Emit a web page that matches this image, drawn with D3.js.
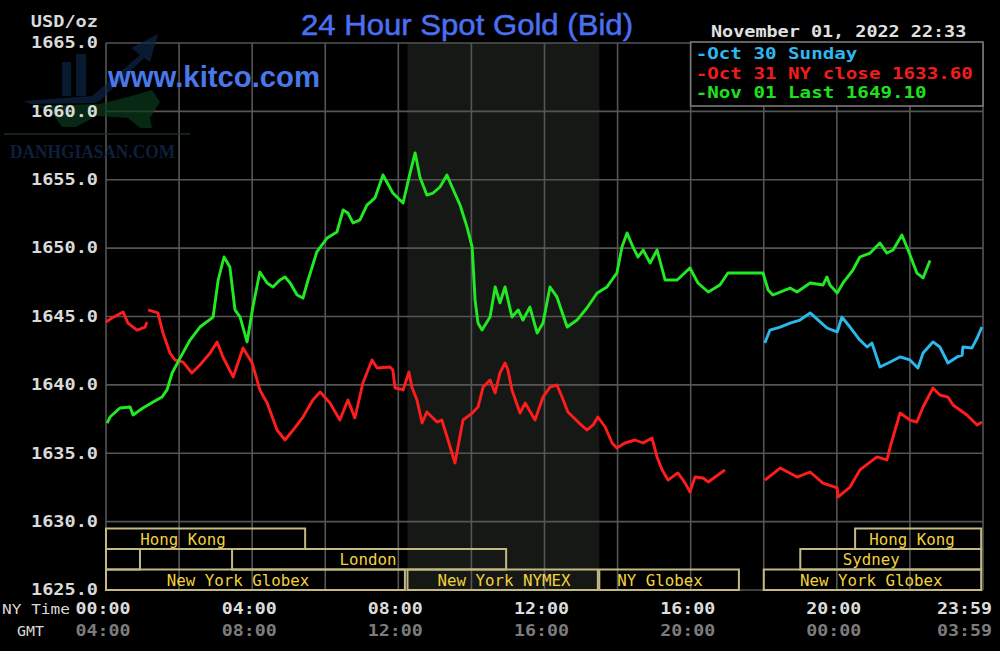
<!DOCTYPE html>
<html><head><meta charset="utf-8">
<script src="https://cdn.jsdelivr.net/npm/d3@7"></script>
<style>html,body{margin:0;padding:0;background:#000;}svg{display:block}</style>
</head><body><svg id="c" width="1000" height="651"></svg>
<script>
// ---------- data ----------
const titleText = "24 Hour Spot Gold (Bid)";
const unitLabel = "USD/oz";
const siteLabel = "www.kitco.com";
const stampLabel = "November 01, 2022 22:33";
const watermarkLabel = "DANHGIASAN.COM";
const legendLabels = ["-Oct 30 Sunday", "-Oct 31 NY close 1633.60", "-Nov 01 Last 1649.10"];
const yTicks = [1625, 1630, 1635, 1640, 1645, 1650, 1655, 1660, 1665];
const gridHours = [0, 2, 4, 6, 8, 10, 12, 14, 16, 18, 20, 22, 24];
const xTickHours = [0, 4, 8, 12, 16, 20, 23.98];
const nyTimeLabels = ["00:00", "04:00", "08:00", "12:00", "16:00", "20:00", "23:59"];
const gmtLabels = ["04:00", "08:00", "12:00", "16:00", "20:00", "00:00", "03:59"];
const comexHours = [8.25, 13.5];

const sessionNames = ["Hong Kong", "Hong Kong", "", "London", "Sydney", "New York Globex", "New York NYMEX", "NY Globex", "New York Globex"];
const sessionRows = [0, 0, 1, 1, 1, 2, 2, 2, 2];
const sessionStart = [0, 20.5, 0, 3.45, 19.0, 0, 8.25, 13.5, 18.0];
const sessionEnd = [5.45, 23.95, 0.93, 10.95, 23.95, 8.18, 13.46, 17.32, 23.95];
const sessionLabelAt = [2.11, 22.06, 0, 7.17, 20.94, 3.61, 10.89, 15.16, 20.94];

const cyanHours = [18.03,18.17,18.45,18.72,18.99,19.27,19.49,19.73,20.01,20.14,20.36,20.63,20.83,20.96,21.18,21.46,21.73,22.00,22.22,22.36,22.63,22.82,23.04,23.29,23.43,23.45,23.70,23.84,23.97];
const cyanPrices = [1643.06,1644.01,1644.23,1644.52,1644.74,1645.26,1644.74,1644.16,1643.87,1644.96,1644.23,1643.28,1642.77,1643.06,1641.31,1641.67,1642.04,1641.82,1641.23,1642.33,1643.14,1642.77,1641.60,1642.04,1642.18,1642.77,1642.70,1643.43,1644.23];

const redHours = [0,0.16,0.47,0.60,0.85,1.07,1.12,null,
 1.15,1.42,1.56,1.75,1.89,2.11,2.35,2.57,2.85,3.04,3.20,3.48,3.75,4.00,4.21,4.41,4.68,4.90,5.12,5.39,5.66,5.86,6.13,6.40,6.62,6.81,7.03,7.28,7.42,7.77,7.85,7.91,8.05,8.13,8.29,8.37,8.51,8.65,8.78,8.92,9.06,9.19,9.36,9.55,9.77,10.02,10.18,10.32,10.51,10.65,10.78,10.92,11.00,11.11,11.33,11.47,11.74,11.96,12.15,12.34,12.48,12.64,12.92,13.16,13.33,13.46,13.66,13.85,13.98,14.20,14.48,14.70,14.94,15.08,15.22,15.38,15.65,15.85,15.98,16.12,16.34,16.48,16.67,16.94,null,
 18.03,18.45,18.91,19.27,19.62,20.01,20.03,20.36,20.63,21.10,21.37,21.46,21.73,22.00,22.19,22.36,22.63,22.82,23.04,23.18,23.56,23.84,23.97];
const redPrices = [1644.60,1644.89,1645.33,1644.52,1644.01,1644.23,1644.60,null,
 1645.48,1645.26,1643.79,1642.33,1641.82,1641.67,1640.87,1641.45,1642.33,1643.14,1642.04,1640.58,1642.70,1641.60,1639.63,1638.67,1636.70,1635.97,1636.70,1637.65,1638.89,1639.48,1638.67,1637.43,1638.89,1637.58,1640.14,1641.82,1641.23,1641.31,1641.09,1639.77,1639.70,1639.63,1640.94,1639.85,1638.89,1637.21,1638.02,1637.65,1637.28,1637.43,1635.97,1634.29,1637.43,1637.94,1638.38,1639.84,1640.36,1639.41,1640.87,1641.60,1641.09,1639.63,1637.94,1638.67,1637.43,1639.11,1639.84,1639.99,1639.11,1638.02,1637.28,1636.70,1637.07,1637.65,1636.92,1635.75,1635.38,1635.75,1635.97,1635.75,1636.12,1634.73,1633.78,1633.04,1633.56,1632.82,1632.17,1633.26,1633.19,1632.90,1633.26,1633.78,null,
 1633.04,1633.92,1633.26,1633.63,1632.82,1632.46,1631.80,1632.53,1633.78,1634.73,1634.51,1635.46,1637.94,1637.43,1637.28,1638.38,1639.77,1639.26,1639.11,1638.53,1637.80,1637.07,1637.28];

const greenHours = [0.03,0.11,0.38,0.66,0.74,1.01,1.29,1.53,1.67,1.81,2.03,2.30,2.57,2.93,3.07,3.23,3.39,3.53,3.67,3.86,4.02,4.21,4.41,4.57,4.76,4.90,5.04,5.23,5.39,5.53,5.77,6.05,6.32,6.49,6.62,6.76,6.95,7.14,7.36,7.58,7.85,8.13,8.32,8.46,8.59,8.78,8.95,9.14,9.33,9.47,9.69,9.88,10.02,10.10,10.18,10.29,10.51,10.65,10.78,10.92,11.11,11.28,11.41,11.60,11.80,11.96,12.15,12.34,12.62,12.89,13.16,13.44,13.71,13.98,14.12,14.26,14.42,14.56,14.70,14.89,15.08,15.30,15.63,15.98,16.20,16.48,16.80,17.02,17.98,18.12,18.25,18.72,18.91,19.27,19.62,19.73,19.81,20.01,20.17,20.44,20.63,20.91,21.18,21.37,21.54,21.78,21.95,22.19,22.36,22.55];
const greenPrices = [1637.21,1637.65,1638.31,1638.38,1637.80,1638.31,1638.75,1639.11,1639.63,1640.87,1641.97,1643.28,1644.23,1644.96,1647.67,1649.35,1648.62,1645.48,1644.96,1643.14,1645.69,1648.25,1647.45,1647.16,1647.67,1647.89,1647.45,1646.57,1646.35,1647.67,1649.72,1650.74,1651.18,1652.79,1652.57,1651.84,1652.06,1653.15,1653.67,1655.35,1654.03,1653.30,1655.49,1656.96,1655.20,1653.88,1654.03,1654.47,1655.35,1654.47,1653.15,1651.54,1650.08,1646.21,1644.52,1644.01,1644.96,1647.16,1645.99,1647.16,1644.96,1645.48,1644.74,1645.69,1643.79,1644.52,1647.16,1646.43,1644.23,1644.74,1645.62,1646.72,1647.16,1648.18,1650.08,1651.11,1650.08,1649.35,1649.86,1648.91,1649.86,1647.67,1647.67,1648.55,1647.45,1646.79,1647.30,1648.18,1648.18,1646.94,1646.57,1647.08,1646.79,1647.45,1647.30,1647.89,1647.30,1646.72,1647.45,1648.40,1649.35,1649.64,1650.37,1649.64,1649.86,1650.96,1649.86,1648.18,1647.82,1649.10];

// ---------- setup ----------
const svg = d3.select("#c");
const W = 1000, H = 651;
const x = d3.scaleLinear().domain([0, 24]).range([106, 983]);
const y = d3.scaleLinear().domain([1625, 1665]).range([590, 43]);
const MONO = "'DejaVu Sans Mono', 'Liberation Mono', monospace";
const SANS = "'Liberation Sans', Arial, sans-serif";

function mono(g, str, px, py, cw, opt) {
  const t = g.append("text").attr("x", px).attr("y", py).text(str)
    .attr("font-family", MONO).attr("font-size", opt.size || 15)
    .attr("font-weight", opt.weight || "bold").attr("fill", opt.fill || "#ddd")
    .attr("textLength", str.length * cw).attr("lengthAdjust", "spacingAndGlyphs");
  if (opt.anchor) t.attr("text-anchor", opt.anchor);
  return t;
}

svg.append("rect").attr("width", W).attr("height", H).attr("fill", "#000");

// COMEX shaded band
svg.append("rect").attr("x", x(comexHours[0])).attr("y", y(1665))
  .attr("width", x(comexHours[1]) - x(comexHours[0])).attr("height", y(1625) - y(1665))
  .attr("fill", "#161816");

// grid
const grid = svg.append("g").attr("stroke", "#555").attr("stroke-width", 1.6);
grid.selectAll("line.h").data(yTicks).join("line").attr("class", "h")
  .attr("x1", x(0)).attr("x2", x(24)).attr("y1", d => y(d)).attr("y2", d => y(d));
grid.selectAll("line.v").data(gridHours).join("line").attr("class", "v")
  .attr("x1", d => x(d)).attr("x2", d => x(d)).attr("y1", y(1665)).attr("y2", y(1625));

// watermark (DANHGIASAN)
const wm = svg.append("g").attr("opacity", 0.7);
wm.append("path").attr("d", "M62,96 L62,62 L71,62 L71,96 Z M76,96 L76,54 L86,54 L86,96 Z").attr("fill", "#0d2645");
wm.append("path").attr("d", "M24,101 L92,96 L140,55 L131,48 L158,34 L150,62 L144,58 L102,99 L95,103 L30,104 Z").attr("fill", "#0d2645");
wm.append("path").attr("d", "M36,106 L100,104 L135,95 L152,90 L160,102 L150,118 L152,128 L140,128 L128,118 L96,116 L76,127 L62,127 L50,110 Z").attr("fill", "#0b3a1c");
wm.append("line").attr("x1", 4).attr("x2", 190).attr("y1", 134).attr("y2", 134).attr("stroke", "#1b3326").attr("stroke-width", 2);
wm.append("text").attr("x", 10).attr("y", 158).text(watermarkLabel)
  .attr("font-family", "'Liberation Serif', serif").attr("font-weight", "bold").attr("font-size", 18)
  .attr("fill", "#132d55").attr("textLength", 165).attr("lengthAdjust", "spacingAndGlyphs");

// session boxes
const rowTop = r => y(1625) - (3 - r) * 20.5;
const sessions = sessionNames.map((n, i) => ({n, r: sessionRows[i], s: sessionStart[i], e: sessionEnd[i], at: sessionLabelAt[i]}));
const sg = svg.append("g");
sg.selectAll("rect").data(sessions).join("rect")
  .attr("x", d => x(d.s)).attr("y", d => rowTop(d.r))
  .attr("width", d => x(d.e) - x(d.s)).attr("height", 20.5)
  .attr("fill", "none").attr("stroke", "#c4b982").attr("stroke-width", 2);
sg.selectAll("text").data(sessions.filter(d => d.n)).join("text")
  .attr("x", d => x(d.at)).attr("y", d => rowTop(d.r) + 16)
  .attr("text-anchor", "middle").text(d => d.n)
  .attr("font-family", MONO).attr("font-size", 15).attr("fill", "#f2d23c")
  .attr("textLength", d => d.n.length * 9.5).attr("lengthAdjust", "spacingAndGlyphs");

// y axis labels
const yAxis = svg.append("g").attr("transform", `translate(${x(0)},0)`)
  .call(d3.axisLeft(y).tickValues(yTicks).tickFormat(d3.format(".1f")).tickSize(0).tickPadding(8));
yAxis.select(".domain").remove();
yAxis.selectAll("text").attr("font-family", MONO).attr("font-size", 15).attr("font-weight", "bold")
  .attr("fill", "#d9d9d9").attr("textLength", 67).attr("lengthAdjust", "spacingAndGlyphs");
mono(svg, unitLabel, 98, 27, 11.2, {anchor: "end", fill: "#d9d9d9"});

// x labels
svg.append("text").attr("x", 2).attr("y", 614).text("NY Time").attr("font-family", MONO)
  .attr("font-size", 14).attr("fill", "#d9d9d9").attr("textLength", 68).attr("lengthAdjust", "spacingAndGlyphs");
svg.append("text").attr("x", 17).attr("y", 636).text("GMT").attr("font-family", MONO)
  .attr("font-size", 14).attr("fill", "#d9d9d9").attr("textLength", 27).attr("lengthAdjust", "spacingAndGlyphs");
const labelX = h => Math.min(x(h) - 3, 992 - 27.5);
svg.append("g").selectAll("text").data(xTickHours).join("text")
  .attr("x", d => labelX(d)).attr("y", 614).attr("text-anchor", "middle")
  .text((d, i) => nyTimeLabels[i]).attr("font-family", MONO).attr("font-size", 15).attr("font-weight", "bold")
  .attr("fill", "#dcdcdc").attr("textLength", 55).attr("lengthAdjust", "spacingAndGlyphs");
svg.append("g").selectAll("text").data(xTickHours).join("text")
  .attr("x", d => labelX(d)).attr("y", 636).attr("text-anchor", "middle")
  .text((d, i) => gmtLabels[i]).attr("font-family", MONO).attr("font-size", 15).attr("font-weight", "bold")
  .attr("fill", "#7c7c7c").attr("textLength", 55).attr("lengthAdjust", "spacingAndGlyphs");

// title + site
svg.append("text").attr("x", 467).attr("y", 35).attr("text-anchor", "middle").text(titleText)
  .attr("font-family", SANS).attr("font-size", 29).attr("fill", "#4b6ff0")
  .attr("stroke", "#4b6ff0").attr("stroke-width", 0.5)
  .attr("textLength", 332).attr("lengthAdjust", "spacingAndGlyphs");
svg.append("text").attr("x", 108).attr("y", 87).text(siteLabel)
  .attr("font-family", SANS).attr("font-weight", "bold").attr("font-size", 30).attr("fill", "#4a78ea")
  .attr("textLength", 212).attr("lengthAdjust", "spacingAndGlyphs");

// timestamp
mono(svg, stampLabel, 711, 37, 11.1, {fill: "#e0e0e0"});

// lines
const mk = (hs, ps) => hs.map((h, i) => ({h, p: ps[i]}));
const line = d3.line().defined(d => d.h != null && d.p != null).x(d => x(d.h)).y(d => y(d.p));
const series = [
  {data: mk(redHours, redPrices), c: "#ff1c1c"},
  {data: mk(cyanHours, cyanPrices), c: "#2bb8ea"},
  {data: mk(greenHours, greenPrices), c: "#22ea22"}
];
svg.append("g").selectAll("path").data(series).join("path")
  .attr("d", d => line(d.data)).attr("fill", "none").attr("stroke", d => d.c)
  .attr("stroke-width", 2.9).attr("stroke-linejoin", "round");

// legend
const legendColors = ["#2fb8f0", "#f21c1c", "#1fe01f"];
const lg = svg.append("g");
lg.append("rect").attr("x", x(16)).attr("y", y(1665) - 1).attr("width", x(24) - x(16)).attr("height", 64)
  .attr("fill", "#000").attr("stroke", "#7a7a7a").attr("stroke-width", 1.6);
legendLabels.forEach((s, i) => mono(lg, s, x(16) + 5, 59 + i * 19.5, 11.55, {fill: legendColors[i]}));
</script></body></html>
